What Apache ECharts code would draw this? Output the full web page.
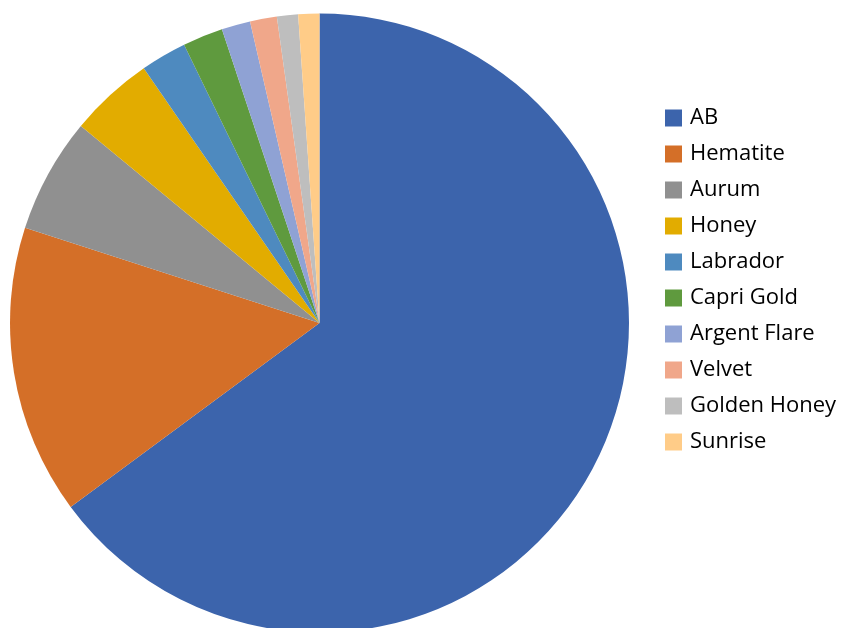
<!DOCTYPE html>
<html>
<head>
<meta charset="utf-8">
<script src="https://cdn.jsdelivr.net/npm/echarts@6/dist/echarts.min.js"></script>
<style>
  html, body { margin: 0; padding: 0; background: #fff; }
  #chart { width: 846px; height: 628px; }
</style>
</head>
<body>
<div id="chart"></div>
<script>
// 数据：分类、占比（%）、颜色
const categories = ['AB', 'Hematite', 'Aurum', 'Honey', 'Labrador', 'Capri Gold', 'Argent Flare', 'Velvet', 'Golden Honey', 'Sunrise']
const values = [64.8, 15.1, 6.0, 4.4, 2.4, 2.1, 1.5, 1.4, 1.1, 1.1]
const colors = ['#3C64AC', '#D46F28', '#909090', '#E2AC00', '#4E8ABF', '#5F9A3E', '#8FA2D4', '#F0A78A', '#BEBEBE', '#FFCC88']

const chart = echarts.init(document.getElementById('chart'))

chart.setOption({
  animation: false,
  color: colors,
  legend: {
    orient: 'vertical',
    left: 660,
    top: 102,
    itemWidth: 17,
    itemHeight: 17,
    itemGap: 14,
    icon: 'rect',
    data: categories,
    textStyle: { fontFamily: 'Open Sans', fontSize: 22, lineHeight: 17, color: '#000', padding: [0, 0, 0, 3] }
  },
  series: [{
    type: 'pie',
    center: [319.5, 323],
    radius: 309.5,
    startAngle: 90,
    clockwise: true,
    label: { show: false },
    labelLine: { show: false },
    emphasis: { disabled: true },
    itemStyle: { borderWidth: 0 },
    data: categories.map((name, i) => ({ name, value: values[i] }))
  }]
})
</script>
</body>
</html>
